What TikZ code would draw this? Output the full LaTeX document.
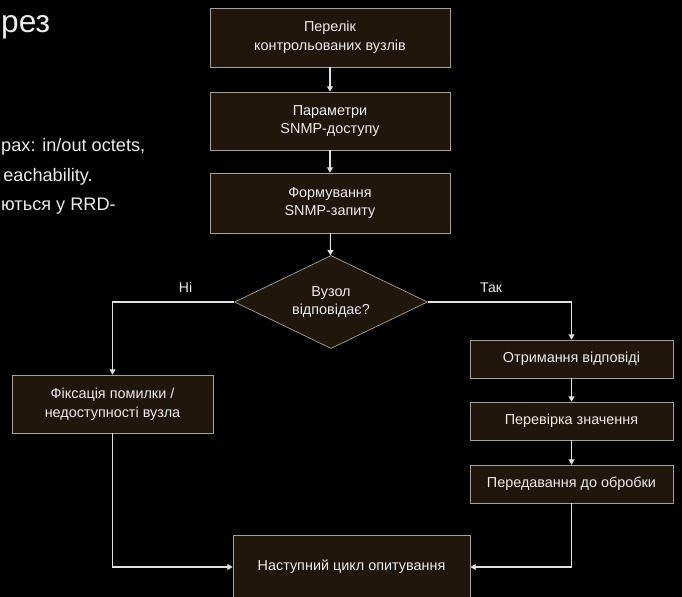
\documentclass[tikz,border=0pt]{standalone}
\usepackage{fontspec}
\setmainfont{Liberation Sans}
\usetikzlibrary{shapes.geometric,arrows.meta,positioning}

\definecolor{boxfill}{RGB}{33,22,12}
\definecolor{boxline}{RGB}{165,160,152}
\definecolor{flowline}{RGB}{225,225,225}
\definecolor{slidetext}{RGB}{236,236,236}

\tikzset{
  stepbox/.style = {fill = boxfill, draw = boxline, line width = 0.6pt, shape = rectangle, text = slidetext, align = center, inner sep = 0pt, font = \fontsize{12.3}{16}\selectfont},
  decision/.style = {stepbox, shape = diamond, aspect = 2.1, minimum width = 5.79cm, minimum height = 2.79cm},
  flow/.style = {draw = flowline, line width = 0.9pt, -{Triangle[width = 5pt, length = 4.5pt]}},
  branch/.style = {text = slidetext, inner sep = 0pt, font = \fontsize{12}{14}\selectfont},
  slideline/.style = {anchor = base west, text = slidetext, inner sep = 0pt, font = \fontsize{15.5}{18}\selectfont}
}

\begin{document}
\begin{tikzpicture}[x = 0.03cm, y = -0.03cm]
\fill[black] (0,0) rectangle (682,597);
\useasboundingbox (0,0) rectangle (682,597);

% cut-off slide text
\node[slideline, font = \fontsize{27}{30}\selectfont] (title) at (1,33) {рез};
\node[slideline] (line1) at (1,152) {рах: in/out octets,};
\node[slideline, anchor = base east] (line2) at (93,181) {eachability.};
\node[slideline] (line3) at (1,210) {ються у RRD-};

% main chain
\node[stepbox, minimum width = 7.2cm, minimum height = 1.77cm] (list) at (330,37.5) {Перелік\\контрольованих вузлів};
\node[stepbox, minimum width = 7.2cm, minimum height = 1.74cm] (params) at (330,121) {Параметри\\SNMP-доступу};
\node[stepbox, minimum width = 7.2cm, minimum height = 1.8cm] (request) at (330,203) {Формування\\SNMP-запиту};
\node[decision] (answer) at (331,302) {Вузол\\відповідає?};

% branches
\node[stepbox, minimum width = 6.03cm, minimum height = 1.74cm] (fail) at (112.5,404) {Фіксація помилки /\\недоступності вузла};
\node[stepbox, minimum width = 6.09cm, minimum height = 1.14cm] (receive) at (571.5,359) {Отримання відповіді};
\node[stepbox, minimum width = 6.09cm, minimum height = 1.14cm] (check) at (571.5,421) {Перевірка значення};
\node[stepbox, minimum width = 6.09cm, minimum height = 1.14cm] (handoff) at (571.5,484) {Передавання до обробки};
\node[stepbox, minimum width = 7.11cm, minimum height = 1.92cm] (next) at (351.5,567) {Наступний цикл опитування};

\draw[flow] (list) -- (params);
\draw[flow] (params) -- (request);
\draw[flow] (request) -- (answer);
\draw[flow] (answer.west) -| node[branch, pos = 0.2, above = 0.27cm] {Ні} (fail.north);
\draw[flow] (answer.east) -| node[branch, pos = 0.22, above = 0.27cm] {Так} (receive.north);
\draw[flow] (receive) -- (check);
\draw[flow] (check) -- (handoff);
\draw[flow] (fail.south) |- (next.west);
\draw[flow] (handoff.south) |- (next.east);
\end{tikzpicture}
\end{document}
